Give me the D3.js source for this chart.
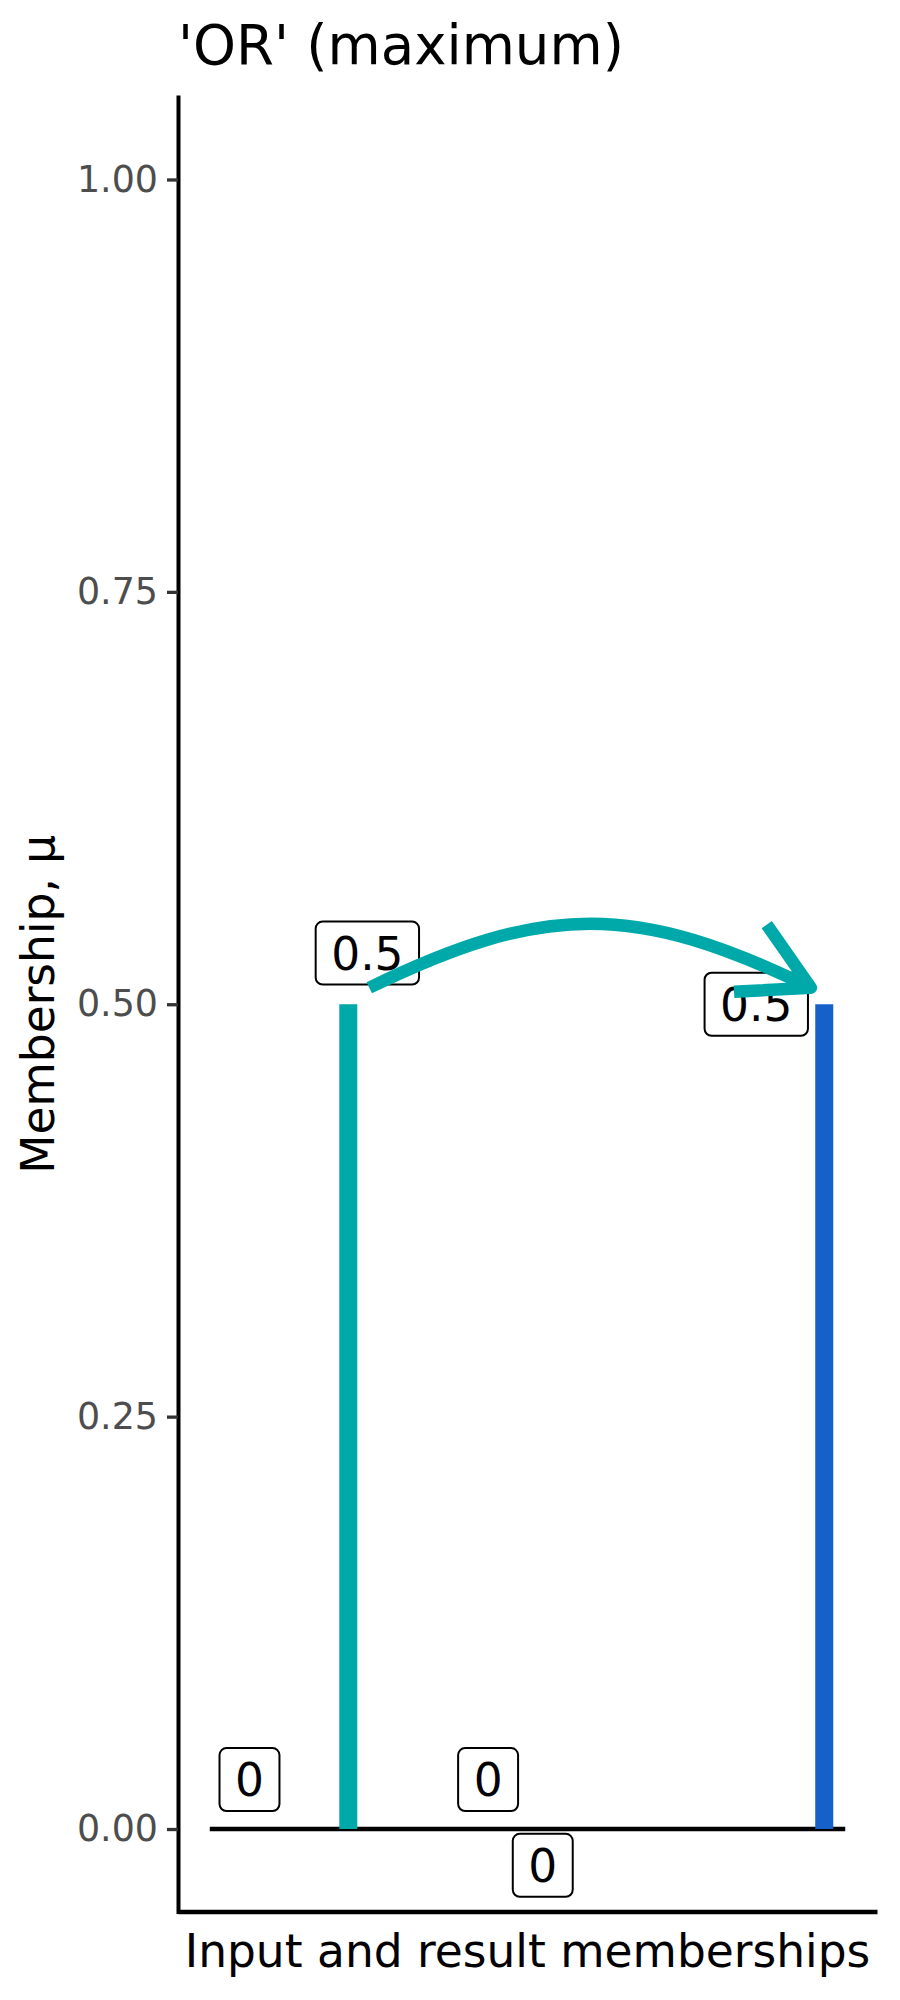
<!DOCTYPE html>
<html>
<head>
<meta charset="utf-8">
<script src="https://cdn.jsdelivr.net/npm/d3@7"></script>
<style>
  body { margin: 0; background: #fff; }
  svg { display: block; font-family: "DejaVu Sans", sans-serif; }
</style>
</head>
<body>
<div id="chart"></div>
<script>
// values
const yTicks = [0, 0.25, 0.5, 0.75, 1]

// membership bars (input on the left, result on the right)
const barX = [0.218, 0.967]
const barValue = [0.5, 0.5]
const barColor = ["#00A9A9", "#1560C9"]

// the zero line
const baseX = [0, 1]
const baseY = 0

// value labels
const labelText = ["0", "0", "0", "0.5", "0.5"]
const labelX = [0.0625, 0.438, 0.524, 0.248, 0.860]
const labelY = [0.030, 0.030, -0.022, 0.531, 0.500]

// curved arrow from input to result
const arrowFrom = [0.251, 0.510]
const arrowTo = [0.946, 0.510]

const width = 900
const height = 2000
const panel = { left: 178, right: 877, top: 97, bottom: 1911.5 }

const svg = d3.select("#chart")
  .append("svg")
  .attr("width", width)
  .attr("height", height)
  .attr("viewBox", [0, 0, width, height])

const x = d3.scaleLinear().domain([-0.05, 1.05]).range([panel.left, panel.right])
const y = d3.scaleLinear().domain([-0.05, 1.05]).range([panel.bottom, panel.top])

// title
svg.append("text")
  .attr("x", panel.left)
  .attr("y", 63.5)
  .attr("font-size", 54.6)
  .attr("fill", "#000")
  .text("'OR' (maximum)")

// axis titles
svg.append("text")
  .attr("x", (panel.left + panel.right) / 2)
  .attr("y", 1967)
  .attr("text-anchor", "middle")
  .attr("font-size", 45.5)
  .text("Input and result memberships")

svg.append("text")
  .attr("transform", `translate(53.5, ${(panel.top + panel.bottom) / 2}) rotate(-90)`)
  .attr("text-anchor", "middle")
  .attr("font-size", 45.5)
  .text("Membership, μ")

const plot = svg.append("g")

// zero line
plot.append("line")
  .attr("x1", x(baseX[0]))
  .attr("x2", x(baseX[1]))
  .attr("y1", y(baseY))
  .attr("y2", y(baseY))
  .attr("stroke", "#000")
  .attr("stroke-width", 4.5)

// bars
plot.selectAll(".bar")
  .data(barX)
  .enter()
  .append("line")
  .attr("class", "bar")
  .attr("x1", d => x(d))
  .attr("x2", d => x(d))
  .attr("y1", y(0))
  .attr("y2", (d, i) => y(barValue[i]))
  .attr("stroke", (d, i) => barColor[i])
  .attr("stroke-width", 18)

// y axis
const yAxis = svg.append("g")
  .attr("transform", `translate(${panel.left},0)`)
  .call(d3.axisLeft(y)
    .tickValues(yTicks)
    .tickFormat(d3.format(".2f"))
    .tickSize(11)
    .tickSizeOuter(0)
    .tickPadding(9))

yAxis.select(".domain").attr("stroke", "#000").attr("stroke-width", 4).attr("stroke-linecap", "square")
yAxis.selectAll(".tick line").attr("stroke", "#333").attr("stroke-width", 3.3)
yAxis.selectAll(".tick text")
  .attr("font-size", 36.4)
  .attr("font-family", "DejaVu Sans, sans-serif")
  .attr("fill", "#4D4D4D")

// x axis (line only)
const xAxis = svg.append("g")
  .attr("transform", `translate(0,${panel.bottom})`)
  .call(d3.axisBottom(x).tickValues([]).tickSizeOuter(0))
xAxis.select(".domain").attr("stroke", "#000").attr("stroke-width", 4.5)

// labels
const labels = plot.selectAll(".lbl")
  .data(labelText)
  .enter()
  .append("g")
  .attr("class", "lbl")
  .attr("transform", (d, i) => `translate(${x(labelX[i])},${y(labelY[i])})`)

const boxes = labels.append("rect")
  .attr("fill", "#fff")
  .attr("stroke", "#000")
  .attr("stroke-width", 2)
  .attr("rx", 7)
  .attr("ry", 7)

const texts = labels.append("text")
  .attr("text-anchor", "middle")
  .attr("font-size", 45.5)
  .attr("y", 45.5 * 0.3645)
  .attr("fill", "#000")
  .text(d => d)

texts.each(function (d, i) {
  const w = this.getComputedTextLength() + 31
  const h = 63
  d3.select(boxes.nodes()[i])
    .attr("x", -w / 2)
    .attr("y", -h / 2)
    .attr("width", w)
    .attr("height", h)
})

// curved arrow
const p0 = [x(arrowFrom[0]), y(arrowFrom[1])]
const p3 = [x(arrowTo[0]), y(arrowTo[1])]
const chord = Math.hypot(p3[0] - p0[0], p3[1] - p0[1])
const bend = 0.145 * chord  // height of the arc
const endAngle = 26 * Math.PI / 180
const reach = bend / (0.75 * Math.sin(endAngle))
const c1 = [p0[0] + reach * Math.cos(endAngle), p0[1] - reach * Math.sin(endAngle)]
const c2 = [p3[0] - reach * Math.cos(endAngle), p3[1] - reach * Math.sin(endAngle)]

const curve = d3.path()
curve.moveTo(p0[0], p0[1])
curve.bezierCurveTo(c1[0], c1[1], c2[0], c2[1], p3[0], p3[1])

plot.append("path")
  .attr("d", curve.toString())
  .attr("fill", "none")
  .attr("stroke", barColor[0])
  .attr("stroke-width", 12.5)
  .attr("stroke-linecap", "butt")

// open arrow head
const dir = Math.atan2(p3[1] - c2[1], p3[0] - c2[0])
const headLen = 77
const headAngle = 29 * Math.PI / 180
const arm = a => [p3[0] - headLen * Math.cos(dir + a), p3[1] - headLen * Math.sin(dir + a)]
const head = d3.line()([arm(headAngle), p3, arm(-headAngle)])

plot.append("path")
  .attr("d", head)
  .attr("fill", "none")
  .attr("stroke", barColor[0])
  .attr("stroke-width", 12.5)
  .attr("stroke-linecap", "butt")
  .attr("stroke-linejoin", "round")
</script>
</body>
</html>
